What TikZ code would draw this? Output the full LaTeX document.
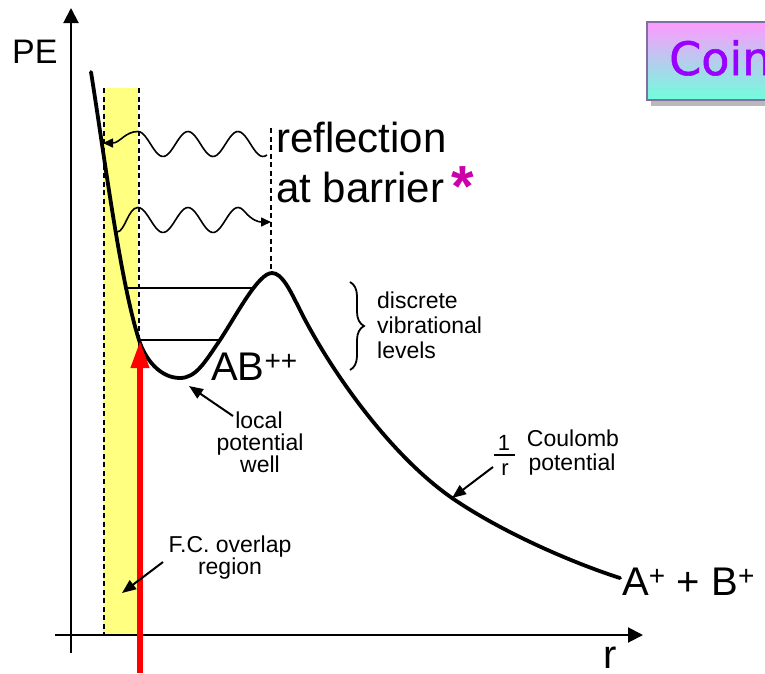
\documentclass[tikz,border=0pt]{standalone}
\usepackage{fontspec}
\setmainfont{Liberation Sans}
\newfontfamily\coincfont[FakeBold=1.2]{DejaVu Sans}
\usetikzlibrary{arrows.meta,decorations.pathreplacing}
\definecolor{fcyellow}{RGB}{255,255,128}
\definecolor{starmag}{RGB}{204,0,170}
\definecolor{boxtop}{RGB}{255,153,255}
\definecolor{boxbot}{RGB}{110,255,220}
\definecolor{boxframe}{RGB}{128,112,160}
\definecolor{coincviolet}{RGB}{153,0,255}
\begin{document}
\begin{tikzpicture}[x=1pt,y=-1pt,
  axis/.style={line width=2pt,-{Triangle[length=15pt,width=15pt]}},
  pecurve/.style={line width=3.8pt,line cap=round,line join=round},
  guide/.style={line width=1.6pt,dash pattern=on 5pt off 3.5pt},
  level/.style={line width=1.6pt},
  wave/.style={line width=1.6pt,-{Triangle[length=10pt,width=9pt]}},
  pointer/.style={line width=2pt,-{Triangle[length=14pt,width=11pt]}},
  lbl/.style={inner sep=0pt,font=\fontsize{23}{26}\selectfont},
  big/.style={inner sep=0pt,font=\fontsize{40}{48}\selectfont},
]
\useasboundingbox (0,0) rectangle (765,673);
% F.C. region
\fill[fcyellow] (103,88) rectangle (138,635);
\coordinate (gl1) at (104,88); \coordinate (gl2) at (104,635);
\coordinate (gr1) at (139,88); \coordinate (gr2) at (139,635);
\coordinate (gb1) at (271,128); \coordinate (gb2) at (271,273);
\draw[guide] (gl1) -- (gl2);
\draw[guide] (gr1) -- (gr2);
\draw[guide] (gb1) -- (gb2);
% axes
\coordinate (yo) at (71,653); \coordinate (ye) at (71,8);
\coordinate (xo) at (55,635); \coordinate (xe) at (643,635);
\draw[axis] (yo) -- (ye);
\draw[axis] (xo) -- (xe);
\node[anchor=base west,inner sep=0pt,font=\fontsize{34}{40}\selectfont] (pe) at (12,63) {PE};
\node[anchor=base west,big] (rlab) at (603,668) {r};
% potential curve
\draw[pecurve] (91,72) .. controls (105,160) and (120,280) .. (139,340)
  .. controls (145,359) and (160,378) .. (180,378)
  .. controls (196,378) and (205,362) .. (220,340)
  .. controls (236,316) and (258,273) .. (272,273)
  .. controls (282,273) and (290,290) .. (300,310)
  .. controls (330,370) and (390,455) .. (452,498)
  .. controls (500,531) and (570,562) .. (620,578);
% levels
\coordinate (l1a) at (126,288); \coordinate (l1b) at (253,288);
\coordinate (l2a) at (139,340); \coordinate (l2b) at (220,340);
\draw[level] (l1a) -- (l1b);
\draw[level] (l2a) -- (l2b);
% waves
\coordinate (w1end) at (103,143);
\draw[wave] plot[domain=267:138,samples=60] (\x,{144-12.5*cos(7.2*(\x-138))})
  .. controls (125,131.5) and (120,143) .. (w1end);
\coordinate (w2start) at (117,232); \coordinate (w2end) at (271,222);
\draw[wave] (w2start) .. controls (125,232) and (128,207.5) .. (138,207.5)
  -- plot[domain=138:245,samples=50] (\x,{220-12.5*cos(7.2*(\x-138))})
  .. controls (252,220) and (258,222) .. (w2end);
% red arrow
\coordinate (fcbot) at (140,673); \coordinate (fctop) at (140,340);
\draw[red,line width=6.5pt,-{Triangle[length=28pt,width=17pt]}] (fcbot) -- (fctop);
% texts
\node[anchor=base west,inner sep=0pt,font=\fontsize{42}{50}\selectfont] (refl1) at (276,152) {reflection};
\node[anchor=base west,inner sep=0pt,font=\fontsize{42}{50}\selectfont] (refl2) at (276,202) {at barrier};
\node[anchor=base,inner sep=0pt,text=starmag,font=\bfseries\fontsize{58}{60}\selectfont] (star) at (463,206) {*};
\draw[line width=1.8pt,decorate,decoration={brace,amplitude=14pt}] (350,282) -- (350,370);
\node[anchor=base west,lbl] (d1) at (377,308) {discrete};
\node[anchor=base west,lbl] (d2) at (377,333) {vibrational};
\node[anchor=base west,lbl] (d3) at (377,358) {levels};
\node[anchor=base west,big] (ab) at (211,380) {AB\textsuperscript{++}};
\node[anchor=base,lbl] (w1) at (259,428) {local};
\node[anchor=base,lbl] (w2) at (260,450) {potential};
\node[anchor=base,lbl] (w3) at (260,472) {well};
\coordinate (wtail) at (233,416); \coordinate (wtip) at (189,386);
\draw[pointer] (wtail) -- (wtip);
\node[anchor=base,lbl] (c1) at (573,446) {Coulomb};
\node[anchor=base,lbl] (c2) at (572,470) {potential};
\node[anchor=base,inner sep=0pt,font=\fontsize{22}{24}\selectfont] (one) at (504,450) {1};
\node[anchor=base,inner sep=0pt,font=\fontsize{22}{24}\selectfont] (rr) at (505,475) {r};
\coordinate (fb1) at (494,455); \coordinate (fb2) at (515,455);
\draw[line width=1.6pt] (fb1) -- (fb2);
\coordinate (ctail) at (493,467); \coordinate (ctip) at (452,498);
\draw[pointer] (ctail) -- (ctip);
\node[anchor=base,lbl] (f1) at (230,552) {F.C. overlap};
\node[anchor=base,lbl] (f2) at (230,574) {region};
\coordinate (ftail) at (163,562); \coordinate (ftip) at (122,593);
\draw[pointer] (ftail) -- (ftip);
\node[anchor=base west,big] (apb) at (622,595) {A\textsuperscript{+} + B\textsuperscript{+}};
% title box
\begin{scope}
\clip (0,0) rectangle (765,673);
\fill[gray!55] (651,100) rectangle (780,106);
\shadedraw[top color=boxtop,bottom color=boxbot,draw=boxframe,line width=2pt] (647,22) rectangle (790,100);
\node[anchor=base west,inner sep=0pt,text=coincviolet,font=\coincfont\fontsize{46}{50}\selectfont] (coinc) at (669,75) {Coinc};
\end{scope}
\end{tikzpicture}
\end{document}
